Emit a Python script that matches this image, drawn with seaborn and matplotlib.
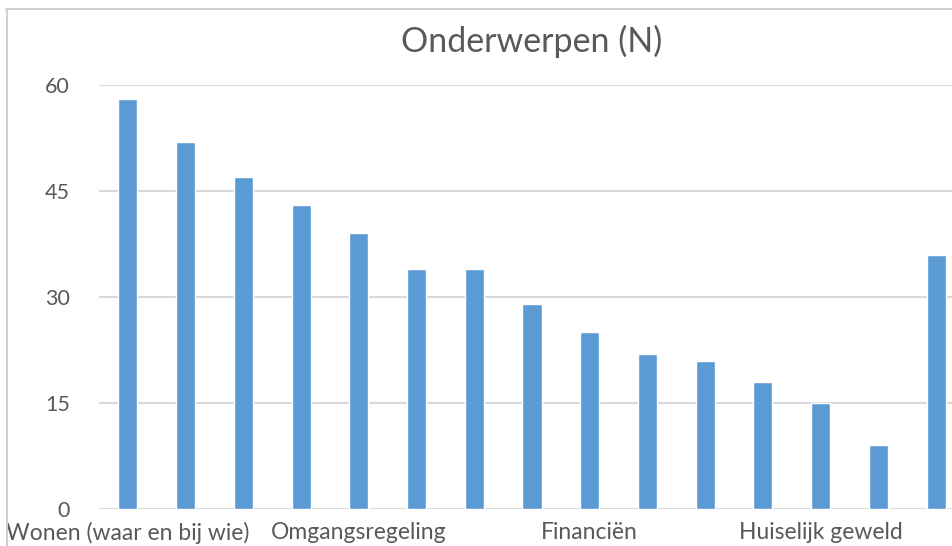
import matplotlib
matplotlib.use("Agg")
import matplotlib.pyplot as plt
import pandas as pd
import seaborn as sns
from matplotlib.lines import Line2D

# Data
counts = [58, 52, 47, 43, 39, 34, 34, 29, 25, 22, 21, 18, 15, 9, 36]
# only every 4th category label is visible in the picture
tick_labels = ["Wonen (waar en bij wie)", "", "", "",
               "Omgangsregeling", "", "", "",
               "Financiën", "", "", "",
               "Huiselijk geweld", "", ""]
y_ticks = [0, 15, 30, 45, 60]
title = "Onderwerpen (N)"

sns.set_style("white")
plt.rcParams['font.family'] = ['Lato', 'DejaVu Sans']

df = pd.DataFrame({'pos': range(len(counts)), 'n': counts})

W, H = 952, 546
fig = plt.figure(figsize=(W / 100, H / 100), dpi=100)
# axes runs off the right edge, like the cropped original
ax = fig.add_axes([99 / W, (H - 509) / H, 866 / W, 424 / H])

sns.barplot(data=df, x='pos', y='n', color='#5B9BD5', width=0.33,
            saturation=1, ax=ax)

ax.set_xlim(-0.5, len(counts) - 0.5)
ax.set_ylim(0, 60)
ax.set_yticks(y_ticks)
ax.set_xticks(range(len(counts)))
ax.set_xticklabels(tick_labels)
ax.set_xlabel("")
ax.set_ylabel("")
ax.yaxis.grid(True, color='#d9d9d9', linewidth=1.5)
ax.set_axisbelow(True)
for s in ax.spines.values():
    s.set_visible(False)
ax.tick_params(axis='x', length=0, pad=9.5, labelsize=16.5, labelcolor='#595959')
ax.tick_params(axis='y', length=0, pad=21, labelsize=15.5, labelcolor='#595959')

ax.set_title(title, fontsize=24.5, color='#595959', pad=24)

# chart frame border (top and left edge)
fig.add_artist(Line2D([6 / W, 1], [(H - 9) / H, (H - 9) / H], transform=fig.transFigure,
                      color='#d0d0d0', linewidth=1.5))
fig.add_artist(Line2D([7 / W, 7 / W], [0, (H - 9) / H], transform=fig.transFigure,
                      color='#d0d0d0', linewidth=1.5))

fig.savefig("out.png", dpi=100)
